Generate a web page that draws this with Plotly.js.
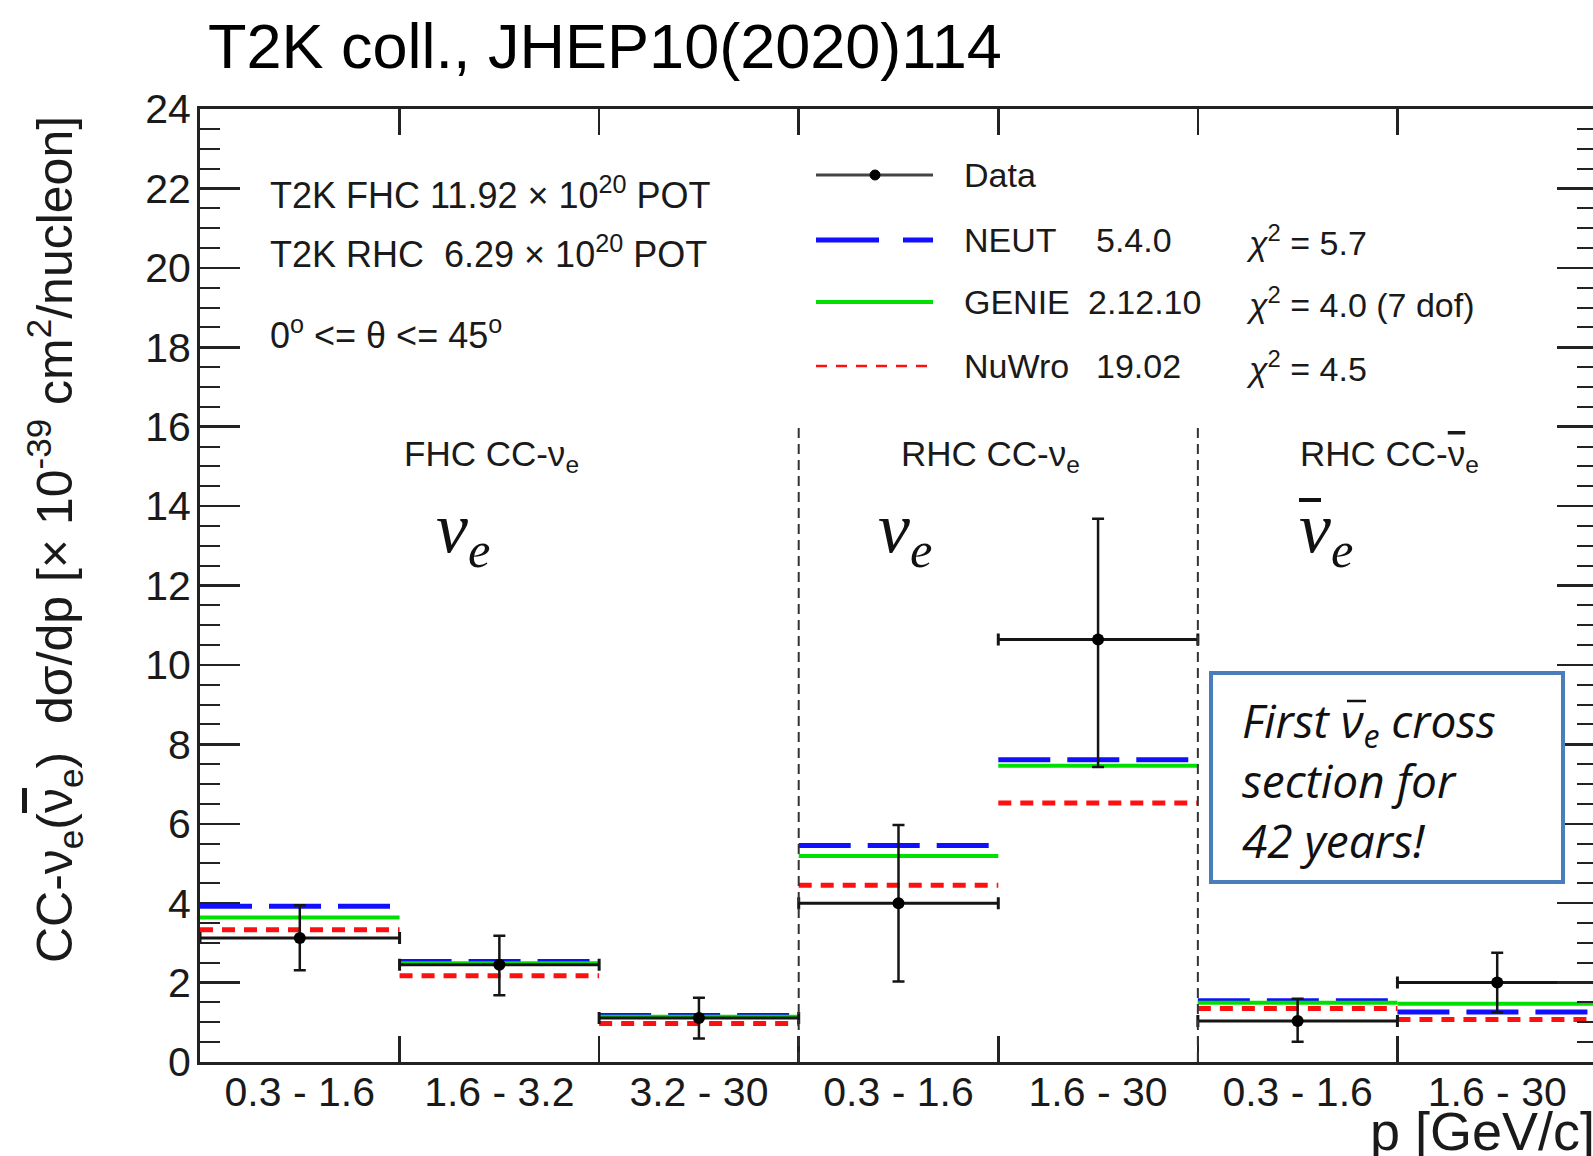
<!DOCTYPE html>
<html>
<head>
<meta charset="utf-8">
<script src="https://cdn.plot.ly/plotly-3.0.1.min.js"></script>
<style>
  html, body { margin: 0; padding: 0; background: #ffffff; overflow: hidden; }
  #chart { width: 1600px; height: 1156px; }
</style>
</head>
<body>
<div id="chart"></div>
<script>
// Momentum bins (bin index space) and their labels in GeV/c
const binEdges = [0, 1, 2, 3, 4, 5, 6, 7];
const binLabels = ['0.3 - 1.6', '1.6 - 3.2', '3.2 - 30', '0.3 - 1.6', '1.6 - 30', '0.3 - 1.6', '1.6 - 30'];

// Measured cross sections [10^-39 cm^2/nucleon per GeV/c]
const dataXsec    = [3.12, 2.45, 1.11, 4.00, 10.64, 1.03, 2.00];
const dataErrUp   = [0.83, 0.73, 0.51, 1.97, 3.04, 0.56, 0.75];
const dataErrDown = [0.81, 0.77, 0.52, 1.97, 3.21, 0.52, 0.75];

// Generator predictions
const neutXsec  = [3.92, 2.53, 1.17, 5.45, 7.61, 1.54, 1.26];
const genieXsec = [3.64, 2.49, 1.14, 5.19, 7.46, 1.49, 1.47];
const nuwroXsec = [3.33, 2.17, 0.97, 4.45, 6.52, 1.35, 1.07];

// anti-neutrino symbol: nu with a bar over it
const NUBAR = '<span style="text-decoration:overline">ν</span>';

// Sample groups: FHC nu_e | RHC nu_e | RHC anti-nu_e
const groupBounds = [0, 3, 5, 7];
const groupLabels = ['FHC CC-ν<sub>e</sub>', 'RHC CC-ν<sub>e</sub>', 'RHC CC-' + NUBAR + '<sub>e</sub>'];
const separatorTop = 16;

// Legend content
const legendNames    = ['Data', 'NEUT', 'GENIE', 'NuWro'];
const legendVersions = ['', '5.4.0', '2.12.10', '19.02'];
const legendChi2     = ['', '<i>χ</i><sup>2</sup> = 5.7', '<i>χ</i><sup>2</sup> = 4.0 (7 dof)', '<i>χ</i><sup>2</sup> = 4.5'];

const exposureLines = [
  'T2K FHC 11.92 × 10<sup>20</sup> POT',
  'T2K RHC  6.29 × 10<sup>20</sup> POT',
  '0<sup>o</sup> <= θ <= 45<sup>o</sup>'
];
// the bar over the nu in the callout is drawn as a shape below
const calloutText = 'First ν<sub>e</sub> cross<br>section for<br>42 years!';

// ---- geometry of the plotting frame (pixels) ----
const FIG_W = 1600, FIG_H = 1156;
const M = { l: 200, r: 3, t: 109, b: 94 };
const PW = FIG_W - M.l - M.r, PH = FIG_H - M.t - M.b;
const PX = x => (x - M.l) / PW;              // pixel x -> paper
const PY = y => (FIG_H - M.b - y) / PH;      // pixel y -> paper

const SANS = 'Liberation Sans, Arial, Helvetica, sans-serif';
const INK = '#1a1a1a';

const binCenters = binEdges.slice(0, -1).map((e, i) => (e + binEdges[i + 1]) / 2);
const binHalf = binEdges.slice(0, -1).map((e, i) => (binEdges[i + 1] - e) / 2);

// horizontal step segments, one per bin, no vertical joins
function steps(vals) {
  const x = [], y = [];
  vals.forEach((v, i) => { x.push(binEdges[i], binEdges[i + 1], null); y.push(v, v, null); });
  return { x, y };
}

const neutS = steps(neutXsec), genieS = steps(genieXsec), nuwroS = steps(nuwroXsec);

const traces = [
  { type: 'scatter', mode: 'lines', name: 'NEUT', x: neutS.x, y: neutS.y, connectgaps: false,
    line: { color: '#1010ff', width: 5, dash: '52px,17px' }, hoverinfo: 'skip' },
  { type: 'scatter', mode: 'lines', name: 'GENIE', x: genieS.x, y: genieS.y, connectgaps: false,
    line: { color: '#00e000', width: 4 }, hoverinfo: 'skip' },
  { type: 'scatter', mode: 'lines', name: 'NuWro', x: nuwroS.x, y: nuwroS.y, connectgaps: false,
    line: { color: '#ff1010', width: 5, dash: '13px,9px' }, hoverinfo: 'skip' },
  { type: 'scatter', mode: 'markers', name: 'Data', x: binCenters, y: dataXsec, xaxis: 'x2',
    marker: { color: '#000000', size: 12 },
    error_y: { type: 'data', symmetric: false, array: dataErrUp, arrayminus: dataErrDown,
               color: '#151515', thickness: 2.5, width: 6 },
    error_x: { type: 'data', array: binHalf, color: '#151515', thickness: 3, width: 6 },
    hoverinfo: 'skip' }
];

const shapes = [];
// dashed separators between the three samples
groupBounds.slice(1, -1).forEach(g => {
  shapes.push({ type: 'line', xref: 'x', yref: 'y', x0: g, x1: g, y0: 0, y1: separatorTop,
                line: { color: '#333333', width: 2, dash: '10px,6px' } });
});

// legend samples
const legRows = [175, 240, 302, 366];
const legX0 = 816, legX1 = 933;
shapes.push({ type: 'line', xref: 'paper', yref: 'paper', x0: PX(legX0), x1: PX(legX1), y0: PY(legRows[0]), y1: PY(legRows[0]),
              line: { color: '#444444', width: 3 } });
shapes.push({ type: 'circle', xref: 'paper', yref: 'paper', x0: PX(870), x1: PX(880), y0: PY(180), y1: PY(170),
              fillcolor: '#000000', line: { color: '#000000', width: 1 } });
shapes.push({ type: 'line', xref: 'paper', yref: 'paper', x0: PX(legX0), x1: PX(legX1), y0: PY(legRows[1]), y1: PY(legRows[1]),
              line: { color: '#1010ff', width: 5, dash: '63px,24px' } });
shapes.push({ type: 'line', xref: 'paper', yref: 'paper', x0: PX(legX0), x1: PX(legX1), y0: PY(legRows[2]), y1: PY(legRows[2]),
              line: { color: '#00e000', width: 4 } });
shapes.push({ type: 'line', xref: 'paper', yref: 'paper', x0: PX(legX0), x1: PX(legX1), y0: PY(legRows[3]), y1: PY(legRows[3]),
              line: { color: '#ff1010', width: 2.5, dash: '11px,9px' } });

// callout box
shapes.push({ type: 'rect', xref: 'paper', yref: 'paper', x0: PX(1211), x1: PX(1563), y0: PY(882), y1: PY(673),
              fillcolor: '#ffffff', line: { color: '#4a7ebb', width: 4 } });

// bars over the large anti-neutrino symbol and over the nu in the callout
shapes.push({ type: 'line', xref: 'paper', yref: 'paper', x0: PX(1299), x1: PX(1321), y0: PY(500), y1: PY(500),
              line: { color: '#111111', width: 4 } });
shapes.push({ type: 'line', xref: 'paper', yref: 'paper', x0: PX(1347), x1: PX(1366), y0: PY(701), y1: PY(701),
              line: { color: '#111111', width: 2.5 }, layer: 'above' });

const ann = [];
const txt = (text, x, y, size, extra) => Object.assign({
  text, x: PX(x), y: PY(y), xref: 'paper', yref: 'paper', showarrow: false,
  xanchor: 'left', yanchor: 'middle', font: { family: SANS, size, color: INK }
}, extra || {});

// axis titles
ann.push(txt('CC-ν<sub>e</sub>(' + NUBAR + '<sub>e</sub>)  dσ/dp [× 10<sup>-39</sup> cm<sup>2</sup>/nucleon]', 54, 540, 50,
             { textangle: -90, xanchor: 'center' }));
ann.push(txt('p [GeV/c]', 1597, 1131, 54, { xanchor: 'right' }));

// exposure / acceptance block
[193, 252, 333].forEach((y, i) => ann.push(txt(exposureLines[i], 268, y, 36)));

// sample headers
groupLabels.forEach((t, i) => {
  ann.push(Object.assign(txt(t, 0, 456, 35, { xanchor: 'center', xshift: -8 }),
    { xref: 'x', x: (groupBounds[i] + groupBounds[i + 1]) / 2 }));
});

// neutrino symbols
const SERIF = 'Liberation Serif, Times New Roman, serif';
[['ν<sub>e</sub>', 463], ['ν<sub>e</sub>', 905], ['ν<sub>e</sub>', 1326]].forEach(([t, x]) => {
  ann.push(txt('<i>' + t + '</i>', x, 533, 72, { xanchor: 'center', font: { family: SERIF, size: 72, color: '#111' } }));
});

// legend text
const verX = [0, 1094, 1086, 1094];
legendNames.forEach((n, i) => {
  ann.push(txt(n, 962, legRows[i], 34));
  if (legendVersions[i]) ann.push(txt(legendVersions[i], verX[i], legRows[i], 34));
  if (legendChi2[i]) ann.push(txt(legendChi2[i], 1244, legRows[i], 34));
});

// callout text
ann.push(txt('<i>' + calloutText + '</i>', 1240, 780, 46,
  { align: 'left', font: { family: 'Open Sans, sans-serif', size: 46, color: '#111' } }));

const layout = {
  width: FIG_W, height: FIG_H,
  margin: M,
  paper_bgcolor: '#ffffff', plot_bgcolor: '#ffffff',
  showlegend: false,
  font: { family: SANS, color: INK },
  title: { text: 'T2K coll., JHEP10(2020)114', xref: 'container', yref: 'container',
           x: 208 / FIG_W, xanchor: 'left', y: 1 - 46 / FIG_H, yanchor: 'middle',
           font: { family: SANS, size: 63, color: '#000' } },
  xaxis: {
    range: [binEdges[0], binEdges[binEdges.length - 1]], tickmode: 'array', tickvals: binEdges,
    showticklabels: false, ticks: 'inside', ticklen: 26, tickwidth: 2.5, tickcolor: '#222',
    showline: true, linewidth: 3, linecolor: '#222', mirror: 'ticks',
    showgrid: false, zeroline: false, fixedrange: true
  },
  xaxis2: {
    overlaying: 'x', anchor: 'y', side: 'bottom',
    range: [binEdges[0], binEdges[binEdges.length - 1]], tickmode: 'array',
    tickvals: binCenters, ticktext: binLabels, ticks: '', ticklabelstandoff: 2,
    tickfont: { family: SANS, size: 41, color: INK },
    showline: false, showgrid: false, zeroline: false, fixedrange: true
  },
  yaxis: {
    range: [0, 24], tickmode: 'linear', tick0: 0, dtick: 2,
    ticks: 'inside', ticklen: 40, tickwidth: 2.5, tickcolor: '#222',
    minor: { dtick: 0.5, ticks: 'inside', ticklen: 20, tickwidth: 2, tickcolor: '#222', showgrid: false },
    tickfont: { family: SANS, size: 41, color: INK }, ticklabelstandoff: -2,
    showline: true, linewidth: 3, linecolor: '#222', mirror: 'ticks',
    showgrid: false, zeroline: false, fixedrange: true
  },
  shapes, annotations: ann
};

Plotly.newPlot('chart', traces, layout, { displayModeBar: false, staticPlot: true });
</script>
</body>
</html>
